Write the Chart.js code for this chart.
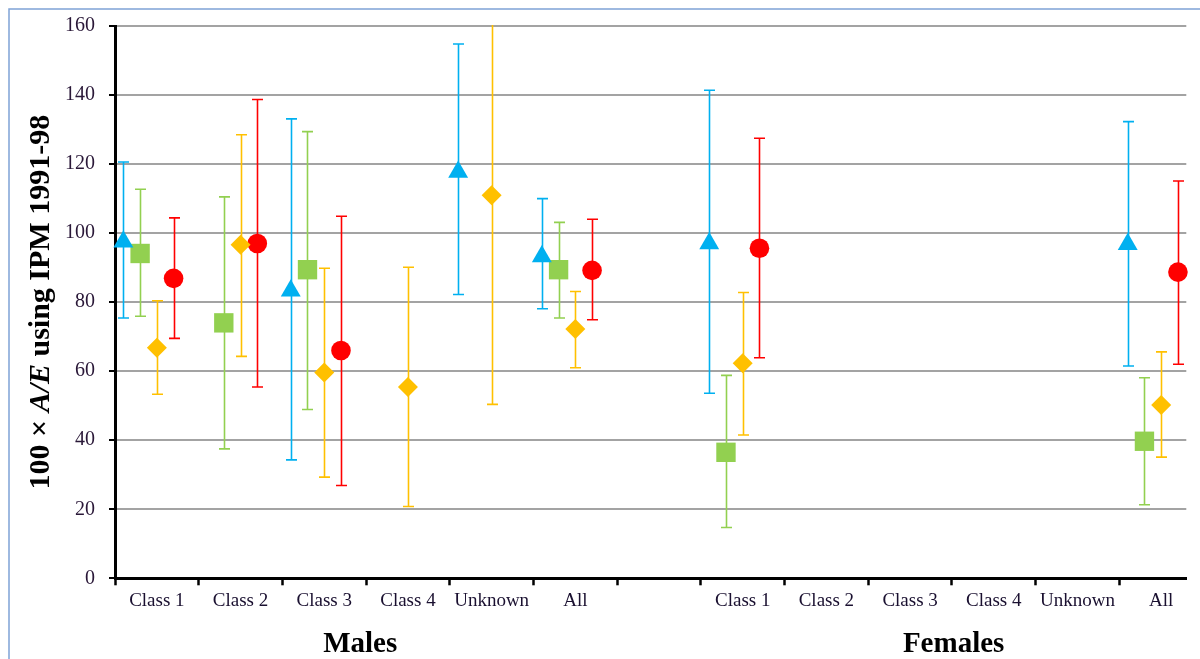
<!DOCTYPE html>
<html>
<head>
<meta charset="utf-8">
<script src="https://cdn.jsdelivr.net/npm/chart.js@4.4.1/dist/chart.umd.min.js"></script>
<style>
  body { margin: 0; background: #fff; }
  canvas { display: block; }
</style>
</head>
<body>
<canvas id="myChart" width="1200" height="659"></canvas>
<script>
// categories along the x axis (index 6 is the empty gap between the groups)
const categories = ["Class 1", "Class 2", "Class 3", "Class 4", "Unknown", "All", "",
  "Class 1", "Class 2", "Class 3", "Class 4", "Unknown", "All"];
const groupLabels = ["Males", "Females"];
const groupCentres = [2.43, 9.52];

// blue triangles
const triValues = [97.5, null, 83.3, null, 117.7, 93.2, null, 97.0, null, null, null, null, 96.8];
const triLow    = [75.4, null, 34.3, null, 82.2, 78.1, null, 53.6, null, null, null, null, 61.5];
const triHigh   = [120.6, null, 133.1, null, 154.8, 110.0, null, 141.4, null, null, null, null, 132.3];
// green squares
const sqValues = [94.1, 74.0, 89.4, null, null, 89.4, null, 36.5, null, null, null, null, 39.7];
const sqLow    = [75.9, 37.5, 48.9, null, null, 75.4, null, 14.7, null, null, null, null, 21.3];
const sqHigh   = [112.7, 110.5, 129.4, null, null, 103.1, null, 58.8, null, null, null, null, 58.1];
// orange diamonds
const diaValues = [66.8, 96.6, 59.6, 55.4, 111.0, 72.2, null, 62.3, null, null, null, null, 50.2];
const diaLow    = [53.3, 64.3, 29.3, 20.8, 50.4, 61.0, null, 41.5, null, null, null, null, 35.1];
const diaHigh   = [80.4, 128.5, 89.8, 90.1, 165.0, 83.1, null, 82.8, null, null, null, null, 65.6];
// red circles
const circValues = [86.9, 97.0, 66.0, null, null, 89.2, null, 95.6, null, null, null, null, 88.7];
const circLow    = [69.5, 55.4, 26.9, null, null, 74.9, null, 63.9, null, null, null, null, 62.0];
const circHigh   = [104.4, 138.7, 104.9, null, null, 104.0, null, 127.5, null, null, null, null, 115.1];

const serif = "'Liberation Serif', 'Times New Roman', serif";

const series = [
  { values: triValues, low: triLow, high: triHigh, color: "#00b0f0", style: "triangle", radius: 11.5, shift: -0.4 },
  { values: sqValues, low: sqLow, high: sqHigh, color: "#92d050", style: "rect", radius: 13.7, shift: -0.2 },
  { values: diaValues, low: diaLow, high: diaHigh, color: "#ffc000", style: "rectRot", radius: 10, shift: 0 },
  { values: circValues, low: circLow, high: circHigh, color: "#ff0000", style: "circle", radius: 9.8, shift: 0.2 },
];

const datasets = series.map((s) => {
  let pts = [];
  s.values.forEach((v, i) => {
    if (v !== null) pts.push({ x: i + s.shift, y: v });
  });
  return {
    data: pts,
    pointStyle: s.style,
    pointRadius: s.radius,
    pointHoverRadius: s.radius,
    backgroundColor: s.color,
    borderColor: s.color,
    borderWidth: 0,
    showLine: false,
    clip: false,
  };
});

// tick values: boundaries between categories and category centres
let xTicks = [];
for (let i = 0; i < categories.length; i++) {
  xTicks.push({ value: i - 0.5 });
  xTicks.push({ value: i });
}

const extras = {
  id: "extras",
  beforeDraw(chart) {
    const ctx = chart.ctx;
    ctx.save();
    ctx.strokeStyle = "#7fa3d6";
    ctx.lineWidth = 1.5;
    ctx.beginPath();
    ctx.moveTo(9, 659);
    ctx.lineTo(9, 9);
    ctx.lineTo(1200, 9);
    ctx.stroke();
    ctx.restore();
  },
  beforeDatasetsDraw(chart) {
    const ctx = chart.ctx;
    const xs = chart.scales.x;
    const ys = chart.scales.y;
    const a = chart.chartArea;
    ctx.save();
    ctx.beginPath();
    ctx.rect(a.left, a.top - 1, a.right - a.left + 20, a.bottom - a.top + 1);
    ctx.clip();
    ctx.lineWidth = 1.6;
    series.forEach((s) => {
      ctx.strokeStyle = s.color;
      s.values.forEach((v, i) => {
        if (v === null) return;
        const px = Math.round(xs.getPixelForValue(i + s.shift)) + 0.5;
        const top = ys.getPixelForValue(s.high[i]);
        const bot = ys.getPixelForValue(s.low[i]);
        ctx.beginPath();
        ctx.moveTo(px, top);
        ctx.lineTo(px, bot);
        ctx.moveTo(px - 5.5, top);
        ctx.lineTo(px + 5.5, top);
        ctx.moveTo(px - 5.5, bot);
        ctx.lineTo(px + 5.5, bot);
        ctx.stroke();
      });
    });
    ctx.restore();
  },
  afterDraw(chart) {
    const ctx = chart.ctx;
    const xs = chart.scales.x;
    const a = chart.chartArea;
    ctx.save();
    ctx.fillStyle = "#000";
    ctx.font = "bold 29px " + serif;
    ctx.textAlign = "center";
    ctx.textBaseline = "alphabetic";
    groupLabels.forEach((g, i) => {
      ctx.fillText(g, xs.getPixelForValue(groupCentres[i]), 652);
    });

    // y axis title with italic A/E
    const parts = [
      ["100 \u00d7 ", "bold 30px " + serif],
      ["A/E", "italic bold 30px " + serif],
      [" using IPM 1991-98", "bold 30px " + serif],
    ];
    let total = 0;
    parts.forEach((p) => {
      ctx.font = p[1];
      total += ctx.measureText(p[0]).width;
    });
    ctx.translate(49, (a.top + a.bottom) / 2);
    ctx.rotate(-Math.PI / 2);
    ctx.textAlign = "left";
    let x = -total / 2;
    parts.forEach((p) => {
      ctx.font = p[1];
      ctx.fillText(p[0], x, 0);
      x += ctx.measureText(p[0]).width;
    });
    ctx.restore();
  },
};

var ctx = document.getElementById("myChart");
var chart = new Chart(ctx, {
  type: "scatter",
  data: { datasets: datasets },
  plugins: [extras],
  options: {
    responsive: false,
    animation: false,
    layout: { padding: { top: 23, right: 11, left: 0, bottom: 0 } },
    plugins: { legend: { display: false }, tooltip: { enabled: false } },
    scales: {
      x: {
        type: "linear",
        min: -0.5,
        max: 12.3,
        afterBuildTicks: (scale) => {
          scale.ticks = xTicks.map((t) => ({ value: t.value }));
        },
        afterFit: (scale) => {
          scale.height = 80.7;
        },
        border: { color: "#000", width: 3 },
        grid: {
          drawOnChartArea: false,
          drawTicks: true,
          tickLength: 7,
          tickWidth: 2.5,
          tickColor: (c) => (c.tick && Number.isInteger(c.tick.value) ? "rgba(0,0,0,0)" : "#000"),
        },
        ticks: {
          autoSkip: false,
          maxRotation: 0,
          padding: 4,
          color: "#1a1030",
          font: { family: serif, size: 19 },
          callback: (v) => (Number.isInteger(v) ? categories[v] : ""),
        },
      },
      y: {
        min: 0,
        max: 160,
        afterFit: (scale) => {
          scale.width = 115;
        },
        border: { color: "#000", width: 3 },
        grid: {
          color: "#a3a3a3",
          lineWidth: 2,
          tickColor: "#000",
          tickLength: 6,
          tickWidth: 2,
        },
        ticks: {
          stepSize: 20,
          padding: 14,
          color: "#2a1838",
          font: { family: serif, size: 20 },
        },
      },
    },
  },
});
</script>
</body>
</html>
